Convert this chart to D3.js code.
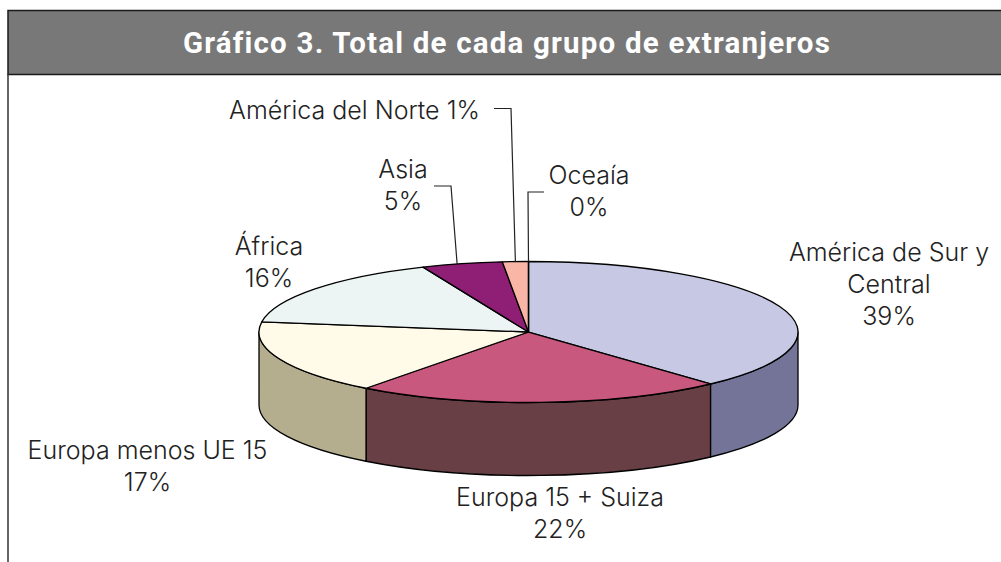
<!DOCTYPE html>
<html>
<head>
<meta charset="utf-8">
<script src="https://cdn.jsdelivr.net/npm/d3@7"></script>
<style>
  html, body { margin: 0; padding: 0; background: #fff; }
  svg { display: block; }
  .title { font-family: "Roboto", sans-serif; font-weight: 700; font-size: 29.5px; letter-spacing: 1.2px; fill: #fff; }
  .lbl { font-family: "Inter", sans-serif; font-weight: 300; font-size: 25px; fill: #222; }
</style>
</head>
<body>
<div id="chart"></div>
<script>
var titleStr = "Gráfico 3. Total de cada grupo de extranjeros";

// clockwise from 12 o'clock
var categories = ["América de Sur y Central", "Europa 15 + Suiza", "Europa menos UE 15", "África", "Asia", "América del Norte", "Oceaía"];
// slice shares as measured on the picture, the printed labels are rounded differently
var shares = [38.2, 22.1, 17.0, 16.3, 4.85, 1.55, 0.0];
var percentLabels = ["39%", "22%", "17%", "16%", "5%", "1%", "0%"];
var topColors = ["#c7c9e4", "#c9587e", "#fffbe8", "#ecf5f4", "#8f1f75", "#f9b5a5", "#c7c9e4"];
var sideColors = ["#747499", "#673f45", "#b4ae8e", "#b0b8b6", "#5a1449", "#a87a6e", "#747499"];

var width = 1001, height = 562;
var depth = 73;

var svg = d3.select("#chart").append("svg")
  .attr("width", width)
  .attr("height", height);

// frame and header
svg.append("rect").attr("x", 8).attr("y", 10.5).attr("width", width).attr("height", 64)
  .attr("fill", "#787878").attr("stroke", "#1a1a1a").attr("stroke-width", 1.5);
svg.append("line").attr("x1", 8).attr("x2", 8).attr("y1", 74).attr("y2", height)
  .attr("stroke", "#333").attr("stroke-width", 1.5);
svg.append("text").attr("class", "title").attr("x", 507).attr("y", 53)
  .attr("text-anchor", "middle").text(titleStr);

// ellipse of the top face, unit circle to pixels
var x = d3.scaleLinear().domain([-1, 1]).range([259, 798]);
var y = d3.scaleLinear().domain([-1, 1]).range([261.5, 402.5]);
var rx = (x(1) - x(-1)) / 2, ry = (y(1) - y(-1)) / 2;

function px(a) { return x(Math.sin(a)); }
function py(a) { return y(-Math.cos(a)); }

var slices = d3.pie().sort(null).value(function(d) { return d; })(shares);

function topPath(d) {
  var large = (d.endAngle - d.startAngle) > Math.PI ? 1 : 0;
  return "M" + x(0) + "," + y(0) +
    "L" + px(d.startAngle) + "," + py(d.startAngle) +
    "A" + rx + "," + ry + " 0 " + large + " 1 " + px(d.endAngle) + "," + py(d.endAngle) + "Z";
}

// wall only shows on the front half, between 90 and 270 degrees
function sidePath(d) {
  var a0 = Math.max(d.startAngle, Math.PI / 2);
  var a1 = Math.min(d.endAngle, Math.PI * 3 / 2);
  if (a1 <= a0) return null;
  return "M" + px(a0) + "," + py(a0) +
    "A" + rx + "," + ry + " 0 0 1 " + px(a1) + "," + py(a1) +
    "L" + px(a1) + "," + (py(a1) + depth) +
    "A" + rx + "," + ry + " 0 0 0 " + px(a0) + "," + (py(a0) + depth) + "Z";
}

svg.append("g").selectAll("path")
  .data(slices.filter(function(d) { return sidePath(d) !== null; }))
  .enter().append("path")
  .attr("d", sidePath)
  .attr("fill", function(d) { return sideColors[d.index]; })
  .attr("stroke", "#000").attr("stroke-width", 1.3).attr("stroke-linejoin", "round");

svg.append("g").selectAll("path")
  .data(slices)
  .enter().append("path")
  .attr("d", topPath)
  .attr("fill", function(d) { return topColors[d.index]; })
  .attr("stroke", "#000").attr("stroke-width", 1.3).attr("stroke-linejoin", "round");

// leader lines, from the label elbow down to the rim of the slice
function rimAt(i, frac) {
  var s = slices[i];
  var a = s.startAngle + (s.endAngle - s.startAngle) * frac;
  return [px(a), py(a)];
}
var line = d3.line();
function leader(pts) {
  svg.append("path").attr("d", line(pts)).attr("fill", "none")
    .attr("stroke", "#222").attr("stroke-width", 1.2);
}
var asiaEnd = rimAt(4, 0.44), norteEnd = rimAt(5, 0.5), oceaniaEnd = rimAt(6, 0.5);
leader([[434, 186], [451, 186], asiaEnd]);
leader([[494, 108.5], [511, 108.5], norteEnd]);
leader([[544, 192], [528, 192], oceaniaEnd]);

// labels
function addLabel(lines, cx, firstY) {
  var t = svg.append("text").attr("class", "lbl").attr("text-anchor", "middle");
  lines.forEach(function(str, i) {
    t.append("tspan").attr("x", cx).attr("y", firstY + i * 32).text(str);
  });
}
addLabel(["América de Sur y", "Central", percentLabels[0]], 889, 261);
addLabel([categories[1], percentLabels[1]], 560, 506);
addLabel([categories[2], percentLabels[2]], 147.5, 459);
addLabel([categories[3], percentLabels[3]], 269, 255);
addLabel([categories[4], percentLabels[4]], 403, 178);
addLabel([categories[6], percentLabels[6]], 589, 184);
svg.append("text").attr("class", "lbl").attr("x", 354.5).attr("y", 119)
  .attr("text-anchor", "middle").text(categories[5] + " " + percentLabels[5]);
</script>
</body>
</html>
